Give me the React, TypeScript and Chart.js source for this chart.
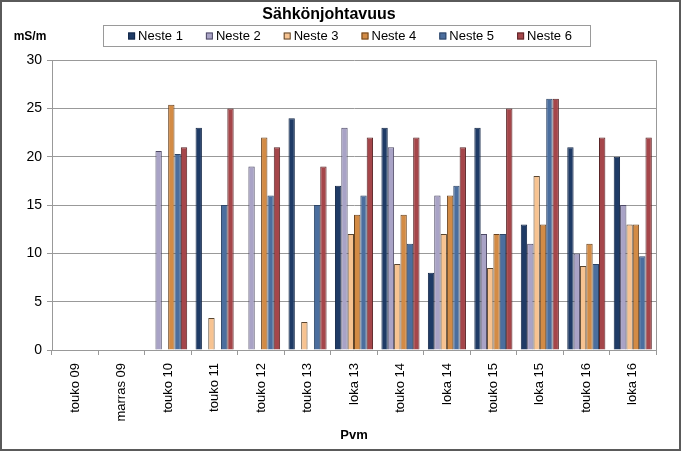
import React, { useEffect, useRef } from "react";
import { Chart, registerables } from "chart.js";

Chart.register(...registerables);

const categories = [
  "touko 09", "marras 09", "touko 10", "touko 11", "touko 12", "touko 13",
  "loka 13", "touko 14", "loka 14", "touko 15", "loka 15", "touko 16", "loka 16",
];

const neste1 = [null, null, null, 23, null, 24, 17, 23, 8, 23, 13, 21, 20];
const neste2 = [null, null, 20.6, null, 19, null, 23, 21, 16, 12, 11, 10, 15];
const neste3 = [null, null, null, 3.3, null, 2.9, 12, 8.9, 12, 8.5, 18, 8.7, 13];
const neste4 = [null, null, 25.4, null, 22, null, 14, 14, 16, 12, 13, 11, 13];
const neste5 = [null, null, 20.3, 15, 16, 15, 16, 11, 17, 12, 26, 8.9, 9.7];
const neste6 = [null, null, 21, 25, 21, 19, 22, 22, 21, 25, 26, 22, 22];

const seriesNames = ["Neste 1", "Neste 2", "Neste 3", "Neste 4", "Neste 5", "Neste 6"];
const seriesValues = [neste1, neste2, neste3, neste4, neste5, neste6];
const fillColors = ["#1F3B66", "#A9A3C6", "#F7C391", "#D38B45", "#4B6E9E", "#A5464A"];
const edgeColors = ["#142848", "#4E4A66", "#5A4630", "#6A4420", "#2E4566", "#5A2527"];

const yTicks = { min: 0, max: 30, step: 5 };

const FONT = "'Liberation Sans', Arial, sans-serif";

const decorPlugin = {
  id: "decor",
  afterDraw(chart: any) {
    const ctx = chart.ctx;
    const area = chart.chartArea;
    ctx.save();
    // right frame of plot area
    ctx.strokeStyle = "#999999";
    ctx.lineWidth = 1;
    ctx.beginPath();
    ctx.moveTo(Math.round(area.right) + 0.5, area.top);
    ctx.lineTo(Math.round(area.right) + 0.5, area.bottom);
    ctx.stroke();

    // unit label
    ctx.fillStyle = "#000";
    ctx.font = `bold 12px ${FONT}`;
    ctx.textAlign = "center";
    ctx.textBaseline = "middle";
    ctx.fillText("mS/m", 28, 35);

    // legend
    const boxL = 101, boxR = 588, boxT = 23, boxB = 44;
    ctx.strokeStyle = "#9a9a9a";
    ctx.lineWidth = 1;
    ctx.fillStyle = "#fff";
    ctx.fillRect(boxL, boxT, boxR - boxL, boxB - boxT);
    ctx.strokeRect(boxL + 0.5, boxT + 0.5, boxR - boxL, boxB - boxT);
    ctx.font = `13px ${FONT}`;
    ctx.textAlign = "left";
    const sw = 7, gapText = 3, gapItem = 23;
    const ds = chart.data.datasets;
    const widths = ds.map((d: any) => sw + gapText + ctx.measureText(d.label).width);
    const total = widths.reduce((a: number, b: number) => a + b, 0) + gapItem * (ds.length - 1);
    let x = 348 - total / 2;
    const cy = 34;
    ds.forEach((d: any, i: number) => {
      ctx.fillStyle = d.backgroundColor;
      ctx.fillRect(x, cy - 3.5, sw, sw);
      ctx.strokeStyle = d.borderColor;
      ctx.strokeRect(x + 0.5, cy - 3, sw - 1, sw - 1);
      ctx.fillStyle = "#000";
      ctx.fillText(d.label, x + sw + gapText, cy + 0.5);
      x += widths[i] + gapItem;
    });
    ctx.restore();
  },
};

export default function App() {
  const ref = useRef<HTMLCanvasElement | null>(null);

  useEffect(() => {
    if (!ref.current) return;
    const chart = new Chart(ref.current, {
      type: "bar",
      data: {
        labels: categories,
        datasets: seriesNames.map((name, i) => ({
          label: name,
          data: seriesValues[i],
          backgroundColor: fillColors[i],
          borderColor: edgeColors[i],
          borderWidth: 1,
          categoryPercentage: 0.82,
          barPercentage: 1.0,
        })),
      },
      options: {
        animation: false,
        responsive: true,
        maintainAspectRatio: false,
        layout: { padding: { left: 0, right: 23, top: 0, bottom: 0 } },
        plugins: {
          legend: { display: false },
          tooltip: { enabled: false },
          title: {
            display: true,
            text: "Sähkönjohtavuus",
            color: "#000",
            font: { family: FONT, size: 16, weight: "bold" },
            padding: { top: 3, bottom: 36 },
          },
        },
        scales: {
          x: {
            grid: {
              offset: true,
              drawOnChartArea: false,
              drawTicks: true,
              tickLength: 5,
              color: "#999999",
            },
            border: { display: true, color: "#999999" },
            ticks: {
              color: "#000",
              font: { family: FONT, size: 13 },
              minRotation: 90,
              maxRotation: 90,
              padding: 8,
              autoSkip: false,
            },
            title: {
              display: true,
              text: "Pvm",
              color: "#000",
              font: { family: FONT, size: 13, weight: "bold" },
              padding: { top: 0, bottom: 6 },
            },
            afterFit(scale: any) {
              scale.height = 99;
            },
          },
          y: {
            min: yTicks.min,
            max: yTicks.max,
            grid: { color: "#999999", tickLength: 5, drawTicks: true },
            border: { display: true, color: "#999999" },
            ticks: {
              stepSize: yTicks.step,
              color: "#000",
              font: { family: FONT, size: 14 },
              padding: 5,
            },
            afterFit(scale: any) {
              scale.width = 50;
            },
          },
        },
      },
      plugins: [decorPlugin],
    });
    return () => chart.destroy();
  }, []);

  return (
    <div
      style={{
        position: "absolute",
        left: 0,
        top: 0,
        width: 681,
        height: 451,
        boxSizing: "border-box",
        border: "2px solid #5a5a5a",
        background: "#fff",
      }}
    >
      <div style={{ position: "relative", width: 677, height: 447 }}>
        <canvas ref={ref} />
      </div>
    </div>
  );
}
